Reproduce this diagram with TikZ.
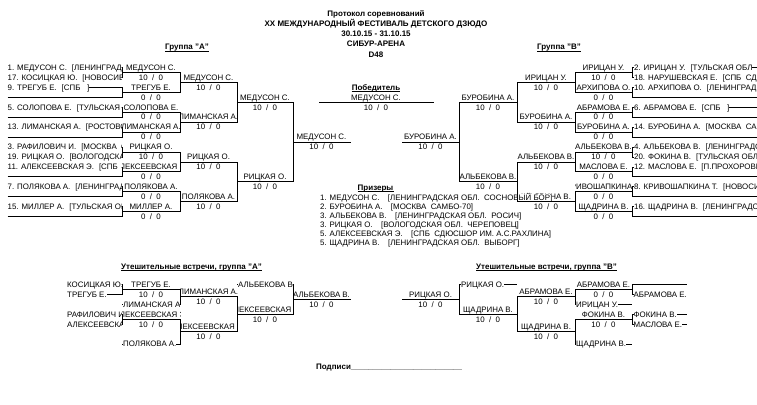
\documentclass[tikz,border=0pt]{standalone}
\usepackage{fontspec}
\setmainfont{Liberation Sans}
\newcounter{nn}
\tikzset{
  txt/.style={font=\fontsize{7.9}{9}\selectfont, inner sep=0pt, text height=6pt, text depth=1.8pt, fill=white},
  hdr/.style={font=\fontsize{8}{9}\selectfont\bfseries, inner sep=0pt, anchor=base},
  ln/.style={line width=1pt, line cap=rect},
  uln/.style={line width=0.6pt},
}
\newcommand\tenz{10\ \ /\ \ 0}
\newcommand\zz{0\ \ /\ \ 0}
\newcommand\gp{\hspace{5pt}}
\newcommand\cellc[4]{\stepcounter{nn}\begin{scope}\clip (#1,#3-5) rectangle (#2,#3+5);\node[txt,anchor=base] (c\arabic{nn}) at ({(#1+#2)/2},#3+2.7) {#4};\end{scope}}
\newcommand\celll[5]{\stepcounter{nn}\begin{scope}\clip (#1,#4-5) rectangle (#2,#4+5);\node[txt,anchor=base west] (l\arabic{nn}) at (#3,#4+2.7) {#5};\end{scope}}
\newcommand\brkt[4]{\draw[ln] (#1,#3) -- (#1,#4); \draw[ln] (#1,{(#3+#4)/2}) -- (#2,{(#3+#4)/2});}
\begin{document}
\begin{tikzpicture}[x=1pt,y=-1pt]
\useasboundingbox[fill=white] (0,0) rectangle (757,404);
% ---------- arms (hidden under texts) ----------
\foreach \y in {67.5,77.45,87.4,97.35,107.3,117.25,127.2,137.15,147.1,157.05,167.0,176.95,186.9,196.85,206.8,216.75}{
  \draw[ln,line cap=butt] (7.5,\y) -- (122,\y);
  \draw[ln,line cap=butt] (632,\y) -- (757,\y);
}
\foreach \y in {284.5,294.45,314.35,324.3}{
  \draw[ln,line cap=butt] (67,\y) -- (122,\y);
  \draw[ln,line cap=butt] (632,\y) -- (687,\y);
}
\foreach \y in {304.4,344.2}{
  \draw[ln,line cap=butt] (122,\y) -- (180,\y);
  \draw[ln,line cap=butt] (575,\y) -- (632,\y);
}
\draw[ln,line cap=butt] (237,284.5) -- (293,284.5);
\draw[ln,line cap=butt] (459,284.5) -- (517,284.5);

% ---------- header ----------
\node[hdr] (h1) at (376,16.8) {Протокол соревнований};
\node[hdr] (h2) at (376,26.3) {XX МЕЖДУНАРОДНЫЙ ФЕСТИВАЛЬ ДЕТСКОГО ДЗЮДО};
\node[hdr] (h3) at (376,36.3) {30.10.15 - 31.10.15};
\node[hdr] (h4) at (376,46.8) {СИБУР-АРЕНА};
\node[hdr] (h5) at (376,57.1) {D48};
\node[hdr] (gA) at (187,49.8) {Группа "А"};
\draw[uln] ([yshift=-1.2pt]gA.base west) -- ([yshift=-1.2pt]gA.base east);
\node[hdr] (gB) at (559,49.8) {Группа "В"};
\draw[uln] ([yshift=-1.2pt]gB.base west) -- ([yshift=-1.2pt]gB.base east);

% ---------- left entries ----------
\celll{0}{121.5}{7.5}{67.5}{1. МЕДУСОН С.\gp[ЛЕНИНГРАДС}
\celll{0}{121.5}{7.5}{77.45}{17. КОСИЦКАЯ Ю.\gp[НОВОСИБ}
\celll{0}{121.5}{7.5}{87.4}{9. ТРЕГУБ Е.\gp[СПБ\ \ \ ]}
\celll{0}{121.5}{7.5}{107.3}{5. СОЛОПОВА Е.\gp[ТУЛЬСКАЯ О}
\celll{0}{121.5}{7.5}{127.2}{13. ЛИМАНСКАЯ А.\gp[РОСТОВС}
\celll{0}{121.5}{7.5}{147.1}{3. РАФИЛОВИЧ И.\gp[МОСКВА\ \ С}
\celll{0}{121.5}{7.5}{157.05}{19. РИЦКАЯ О.\gp[ВОЛОГОДСКА}
\celll{0}{121.5}{7.5}{167.0}{11. АЛЕКСЕЕВСКАЯ Э.\gp[СПБ\ \ С}
\celll{0}{121.5}{7.5}{186.9}{7. ПОЛЯКОВА А.\gp[ЛЕНИНГРАДС}
\celll{0}{121.5}{7.5}{206.8}{15. МИЛЛЕР А.\gp[ТУЛЬСКАЯ ОБЛ}
% left col1
\cellc{122}{180}{67.5}{МЕДУСОН С.}   \cellc{122}{180}{77.45}{\tenz}
\cellc{122}{180}{87.4}{ТРЕГУБ Е.}    \cellc{122}{180}{97.35}{\zz}
\cellc{122}{180}{107.3}{СОЛОПОВА Е.} \cellc{122}{180}{117.25}{\zz}
\cellc{122}{180}{127.2}{ЛИМАНСКАЯ А.} \cellc{122}{180}{137.15}{\zz}
\cellc{122}{180}{147.1}{РИЦКАЯ О.}   \cellc{122}{180}{157.05}{\tenz}
\cellc{122}{180}{167.0}{АЛЕКСЕЕВСКАЯ Э.} \cellc{122}{180}{176.95}{\zz}
\cellc{122}{180}{186.9}{ПОЛЯКОВА А.} \cellc{122}{180}{196.85}{\zz}
\cellc{122}{180}{206.8}{МИЛЛЕР А.}   \cellc{122}{180}{216.75}{\zz}
% left col2
\cellc{180}{237}{77.45}{МЕДУСОН С.}   \cellc{180}{237}{87.4}{\tenz}
\cellc{180}{237}{117.25}{ЛИМАНСКАЯ А.} \cellc{180}{237}{127.2}{\tenz}
\cellc{180}{237}{157.05}{РИЦКАЯ О.}   \cellc{180}{237}{167.0}{\tenz}
\cellc{180}{237}{196.85}{ПОЛЯКОВА А.} \cellc{180}{237}{206.8}{\tenz}
% left col3, col4
\cellc{237}{293}{97.35}{МЕДУСОН С.}  \cellc{237}{293}{107.3}{\tenz}
\cellc{237}{293}{176.95}{РИЦКАЯ О.}  \cellc{237}{293}{186.9}{\tenz}
\cellc{293}{350}{137.15}{МЕДУСОН С.} \cellc{293}{350}{147.1}{\tenz}

% ---------- right entries ----------
\celll{632.5}{757}{634}{67.5}{2. ИРИЦАН У.\gp[ТУЛЬСКАЯ ОБЛ}
\celll{632.5}{757}{634}{77.45}{18. НАРУШЕВСКАЯ Е.\gp[СПБ\ \ СД}
\celll{632.5}{757}{634}{87.4}{10. АРХИПОВА О.\gp[ЛЕНИНГРАД}
\celll{632.5}{757}{634}{107.3}{6. АБРАМОВА Е.\gp[СПБ\ \ \ ]}
\celll{632.5}{757}{634}{127.2}{14. БУРОБИНА А.\gp[МОСКВА\ \ СА}
\celll{632.5}{757}{634}{147.1}{4. АЛЬБЕКОВА В.\gp[ЛЕНИНГРАДС}
\celll{632.5}{757}{634}{157.05}{20. ФОКИНА В.\gp[ТУЛЬСКАЯ ОБЛ}
\celll{632.5}{757}{634}{167.0}{12. МАСЛОВА Е.\gp[П.ПРОХОРОВКА}
\celll{632.5}{757}{634}{186.9}{8. КРИВОШАПКИНА Т.\gp[НОВОСИ}
\celll{632.5}{757}{634}{206.8}{16. ЩАДРИНА В.\gp[ЛЕНИНГРАДС}
% right col1
\cellc{575}{632}{67.5}{ИРИЦАН У.}    \cellc{575}{632}{77.45}{\tenz}
\cellc{575}{632}{87.4}{АРХИПОВА О.}  \cellc{575}{632}{97.35}{\zz}
\cellc{575}{632}{107.3}{АБРАМОВА Е.} \cellc{575}{632}{117.25}{\zz}
\cellc{575}{632}{127.2}{БУРОБИНА А.} \cellc{575}{632}{137.15}{\zz}
\cellc{575}{632}{147.1}{АЛЬБЕКОВА В.} \cellc{575}{632}{157.05}{\tenz}
\cellc{575}{632}{167.0}{МАСЛОВА Е.}  \cellc{575}{632}{176.95}{\zz}
\cellc{575}{632}{186.9}{КРИВОШАПКИНА Т.} \cellc{575}{632}{196.85}{\zz}
\cellc{575}{632}{206.8}{ЩАДРИНА В.}  \cellc{575}{632}{216.75}{\zz}
% right col2
\cellc{517}{575}{77.45}{ИРИЦАН У.}    \cellc{517}{575}{87.4}{\tenz}
\cellc{517}{575}{117.25}{БУРОБИНА А.} \cellc{517}{575}{127.2}{\tenz}
\cellc{517}{575}{157.05}{АЛЬБЕКОВА В.} \cellc{517}{575}{167.0}{\tenz}
\cellc{517}{575}{196.85}{ЩАДРИНА В.}  \cellc{517}{575}{206.8}{\tenz}
% right col3, col4
\cellc{459}{517}{97.35}{БУРОБИНА А.}  \cellc{459}{517}{107.3}{\tenz}
\cellc{459}{517}{176.95}{АЛЬБЕКОВА В.} \cellc{459}{517}{186.9}{\tenz}
\cellc{402}{459}{137.15}{БУРОБИНА А.} \cellc{402}{459}{147.1}{\tenz}

% ---------- winner ----------
\node[hdr] (win) at (376,90.2) {Победитель};
\draw[uln] ([yshift=-1.2pt]win.base west) -- ([yshift=-1.2pt]win.base east);
\node[txt,anchor=base] (wn) at (376,100.05) {МЕДУСОН С.};
\node[txt,anchor=base] (ws) at (376,110.0) {\tenz};

% ---------- prize winners ----------
\node[hdr] (pz) at (375.5,190.3) {Призеры};
\draw[uln] ([yshift=-1.2pt]pz.base west) -- ([yshift=-1.2pt]pz.base east);
\node[txt,anchor=base west] (p1) at (320,200.1) {1. МЕДУСОН С.\hspace{8.5pt}[ЛЕНИНГРАДСКАЯ ОБЛ.\ \ СОСНОВЫЙ БОР]};
\node[txt,anchor=base west] (p2) at (320,209.2) {2. БУРОБИНА А.\hspace{8.5pt}[МОСКВА\ \ САМБО-70]};
\node[txt,anchor=base west] (p3) at (320,218.2) {3. АЛЬБЕКОВА В.\hspace{8.5pt}[ЛЕНИНГРАДСКАЯ ОБЛ.\ \ РОСИЧ]};
\node[txt,anchor=base west] (p4) at (320,227.3) {3. РИЦКАЯ О.\hspace{8.5pt}[ВОЛОГОДСКАЯ ОБЛ.\ \ ЧЕРЕПОВЕЦ]};
\node[txt,anchor=base west] (p5) at (320,236.3) {5. АЛЕКСЕЕВСКАЯ Э.\hspace{8.5pt}[СПБ\ \ СДЮСШОР ИМ. А.С.РАХЛИНА]};
\node[txt,anchor=base west] (p6) at (320,245.4) {5. ЩАДРИНА В.\hspace{8.5pt}[ЛЕНИНГРАДСКАЯ ОБЛ.\ \ ВЫБОРГ]};

% ---------- consolation headers ----------
\node[hdr] (uA) at (191.5,269.5) {Утешительные встречи, группа "А"};
\draw[uln] ([yshift=-1.2pt]uA.base west) -- ([yshift=-1.2pt]uA.base east);
\node[hdr] (uB) at (546.5,269.5) {Утешительные встречи, группа "В"};
\draw[uln] ([yshift=-1.2pt]uB.base west) -- ([yshift=-1.2pt]uB.base east);

% ---------- consolation A texts ----------
\celll{66}{121.5}{67}{284.5}{КОСИЦКАЯ Ю.}
\celll{66}{121.5}{67}{294.45}{ТРЕГУБ Е.}
\celll{66}{121.5}{67}{314.35}{РАФИЛОВИЧ И.}
\celll{66}{121.5}{67}{324.3}{АЛЕКСЕЕВСКАЯ Э.}
\cellc{122}{180}{284.5}{ТРЕГУБ Е.} \cellc{122}{180}{294.45}{\tenz}
\celll{122.5}{179.5}{123}{304.4}{ЛИМАНСКАЯ А.}
\cellc{122}{180}{314.35}{АЛЕКСЕЕВСКАЯ Э.} \cellc{122}{180}{324.3}{\tenz}
\celll{122.5}{179.5}{123}{344.2}{ПОЛЯКОВА А.}
\cellc{180}{237}{291.94}{ЛИМАНСКАЯ А.} \cellc{180}{237}{301.94}{\tenz}
\cellc{180}{237}{326.76}{АЛЕКСЕЕВСКАЯ Э.} \cellc{180}{237}{336.76}{\tenz}
\celll{237.5}{292.5}{238}{284.5}{АЛЬБЕКОВА В.}
\cellc{237}{293}{309.35}{АЛЕКСЕЕВСКАЯ Э.} \cellc{237}{293}{319.35}{\tenz}
\cellc{293}{350}{294.43}{АЛЬБЕКОВА В.} \cellc{293}{350}{304.43}{\tenz}

% ---------- consolation B texts ----------
\celll{632.5}{687}{633.5}{294.45}{АБРАМОВА Е.}
\celll{632.5}{687}{633.5}{314.35}{ФОКИНА В.}
\celll{632.5}{687}{633.5}{324.3}{МАСЛОВА Е.}
\cellc{575}{632}{284.5}{АБРАМОВА Е.} \cellc{575}{632}{294.45}{\zz}
\celll{575.5}{631.5}{576}{304.4}{ИРИЦАН У.}
\cellc{575}{632}{314.35}{ФОКИНА В.} \cellc{575}{632}{324.3}{\tenz}
\celll{575.5}{631.5}{576}{344.2}{ЩАДРИНА В.}
\cellc{517}{575}{291.94}{АБРАМОВА Е.} \cellc{517}{575}{301.94}{\tenz}
\cellc{517}{575}{326.76}{ЩАДРИНА В.} \cellc{517}{575}{336.76}{\tenz}
\celll{459.5}{516.5}{461}{284.5}{РИЦКАЯ О.}
\cellc{459}{517}{309.35}{ЩАДРИНА В.} \cellc{459}{517}{319.35}{\tenz}
\cellc{402}{459}{294.43}{РИЦКАЯ О.} \cellc{402}{459}{304.43}{\tenz}

% ---------- signature ----------
\node[hdr,anchor=base west] (sig) at (316,369) {Подписи\_\_\_\_\_\_\_\_\_\_\_\_\_\_\_\_\_\_\_\_\_\_\_\_\_};

% ---------- bracket lines, group A ----------
\brkt{122}{180}{67.5}{77.45}   \brkt{122}{180}{87.4}{97.35}
\brkt{122}{180}{107.3}{117.25} \brkt{122}{180}{127.2}{137.15}
\brkt{122}{180}{147.1}{157.05} \brkt{122}{180}{167.0}{176.95}
\brkt{122}{180}{186.9}{196.85} \brkt{122}{180}{206.8}{216.75}
\brkt{180}{237}{72.475}{92.375}  \brkt{180}{237}{112.275}{132.175}
\brkt{180}{237}{152.075}{171.975} \brkt{180}{237}{191.875}{211.775}
\brkt{237}{293}{82.425}{122.225} \brkt{237}{293}{162.025}{201.825}
\brkt{293}{350}{102.325}{181.925}
% ---------- bracket lines, group B ----------
\brkt{632}{575}{67.5}{77.45}   \brkt{632}{575}{87.4}{97.35}
\brkt{632}{575}{107.3}{117.25} \brkt{632}{575}{127.2}{137.15}
\brkt{632}{575}{147.1}{157.05} \brkt{632}{575}{167.0}{176.95}
\brkt{632}{575}{186.9}{196.85} \brkt{632}{575}{206.8}{216.75}
\brkt{575}{517}{72.475}{92.375}  \brkt{575}{517}{112.275}{132.175}
\brkt{575}{517}{152.075}{171.975} \brkt{575}{517}{191.875}{211.775}
\brkt{517}{459}{82.425}{122.225} \brkt{517}{459}{162.025}{201.825}
\brkt{459}{402}{102.325}{181.925}
% winner line
\draw[ln] (319,102.325) -- (433,102.325);
% ---------- consolation lines ----------
\brkt{122}{180}{284.5}{294.45}
\brkt{180}{237}{289.475}{304.4}
\brkt{122}{180}{314.35}{324.3}
\brkt{180}{237}{319.325}{344.2}
\brkt{237}{293}{296.94}{331.76}
\brkt{293}{350}{284.5}{314.35}
\brkt{632}{575}{284.5}{294.45}
\brkt{575}{517}{289.475}{304.4}
\brkt{632}{575}{314.35}{324.3}
\brkt{575}{517}{319.325}{344.2}
\brkt{517}{459}{296.94}{331.76}
\brkt{459}{402}{284.5}{314.35}
\end{tikzpicture}
\end{document}
